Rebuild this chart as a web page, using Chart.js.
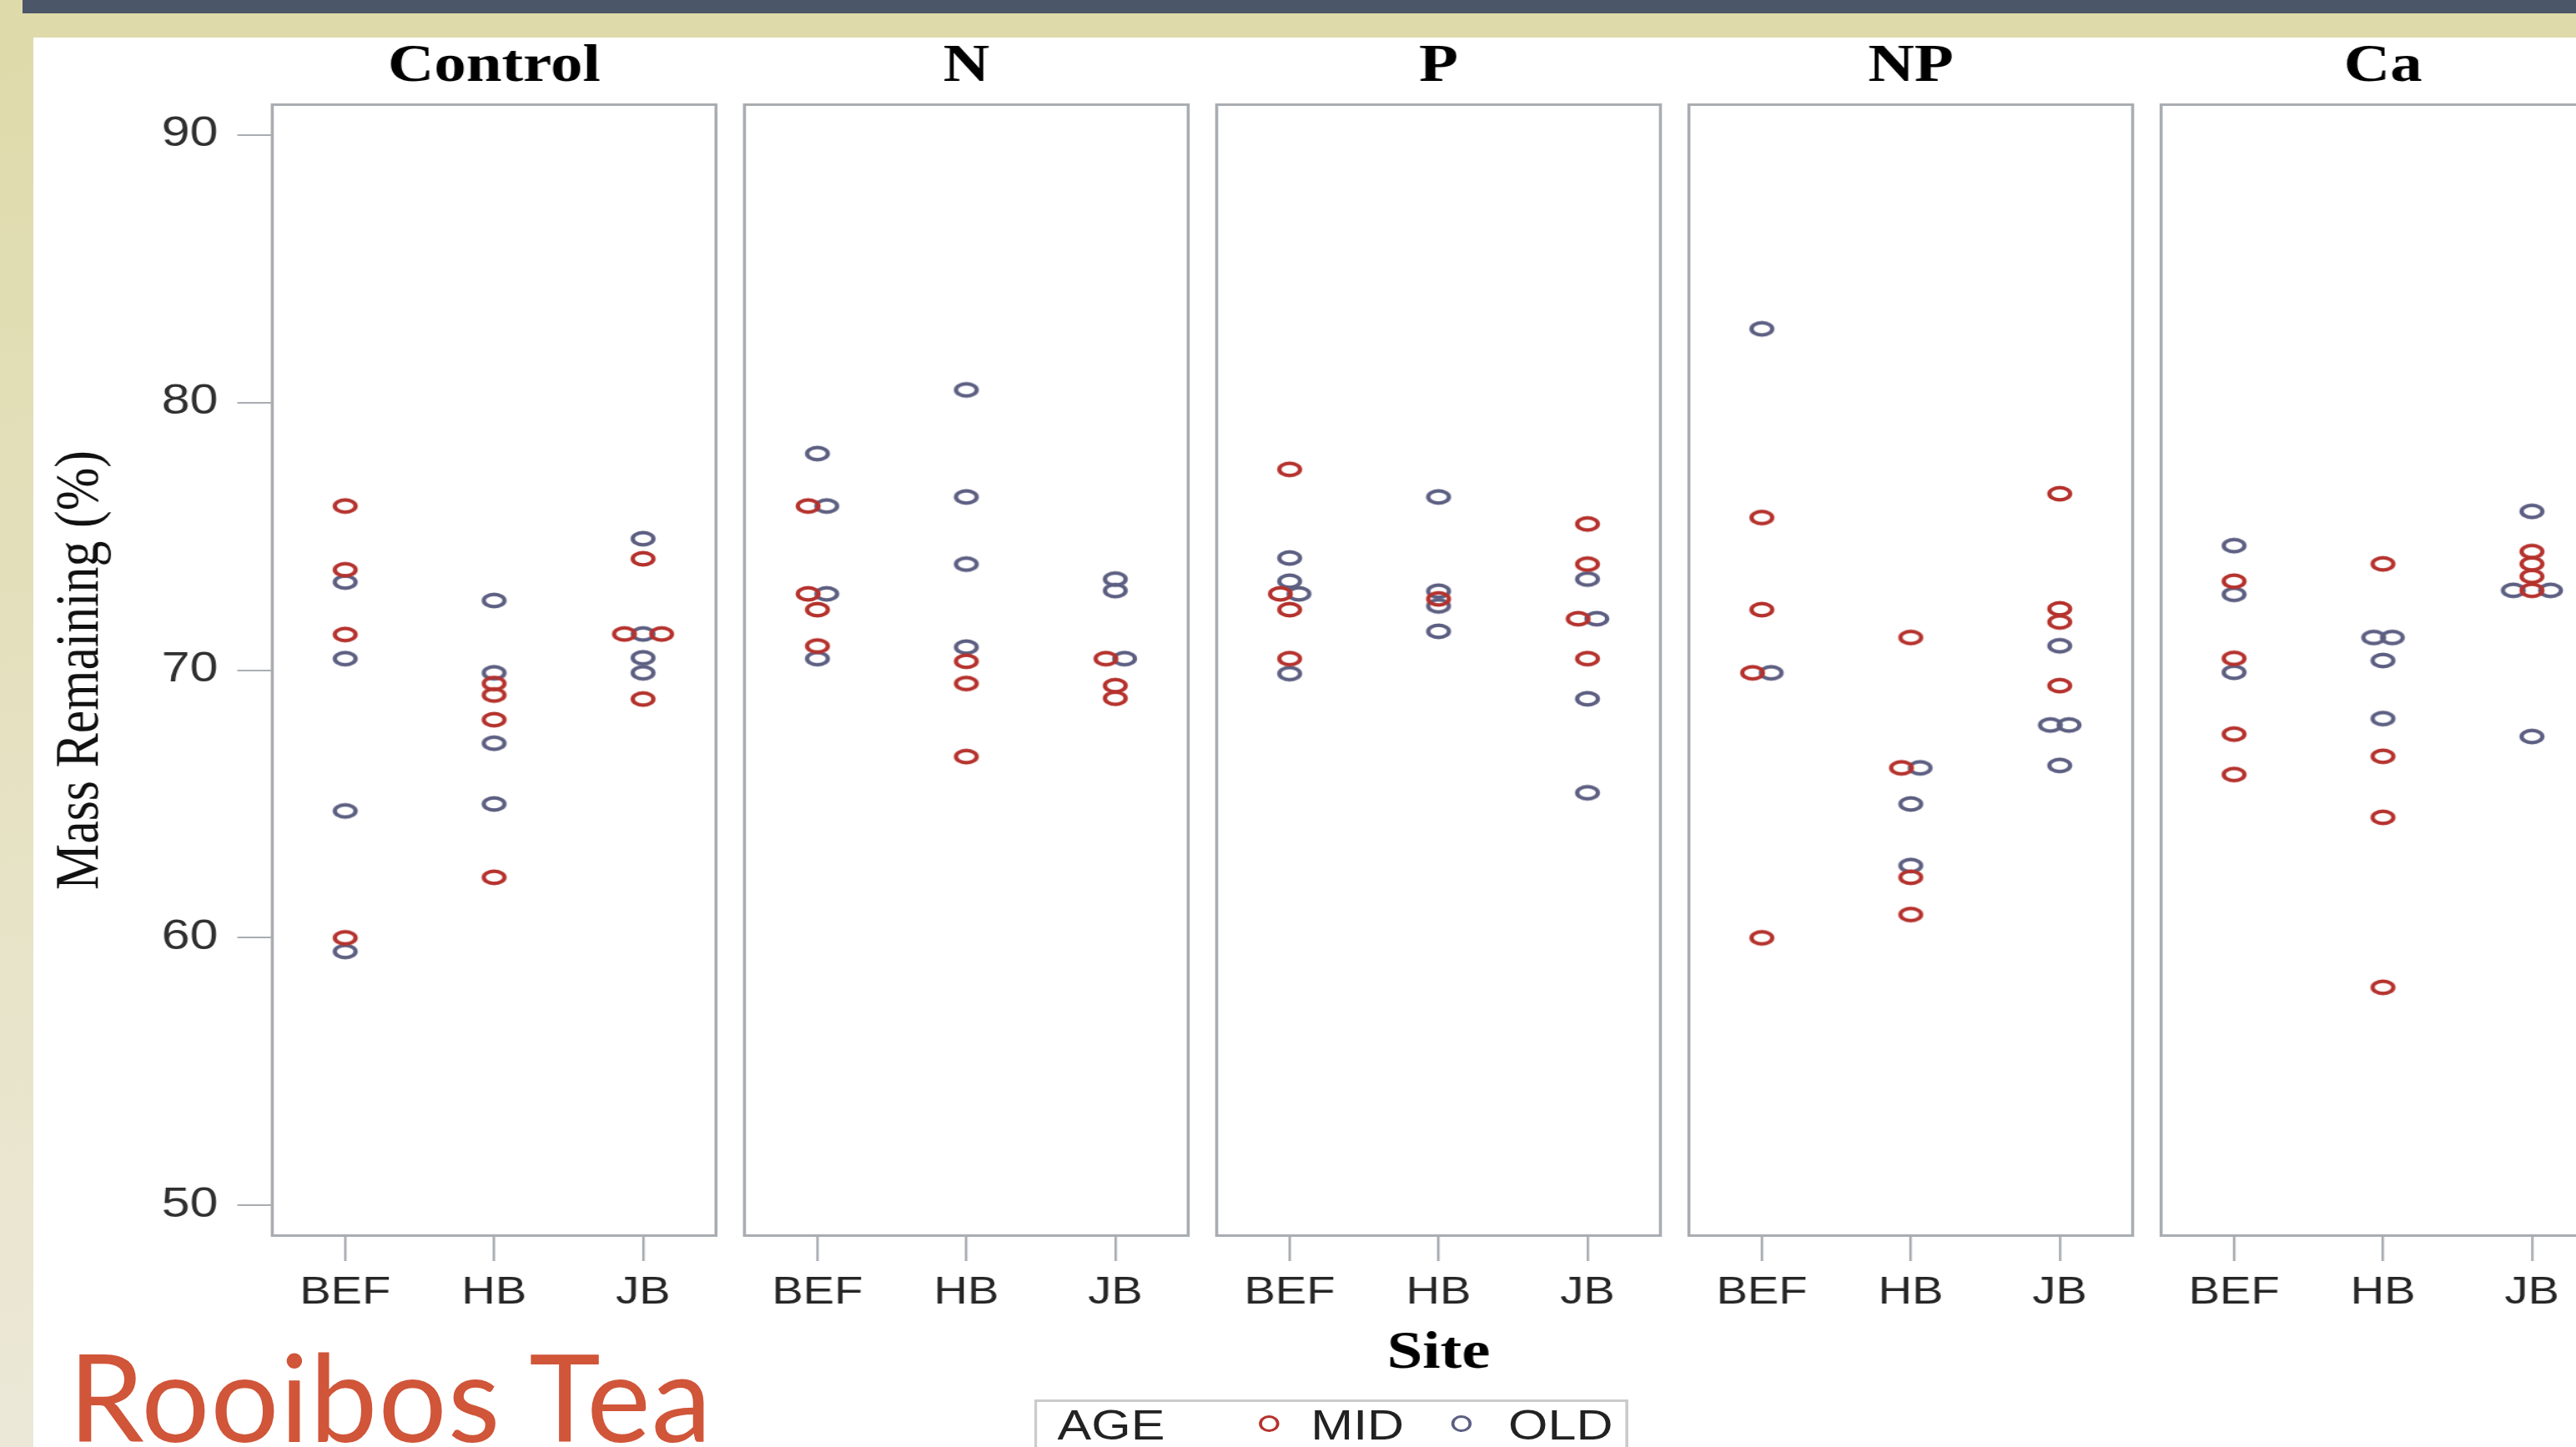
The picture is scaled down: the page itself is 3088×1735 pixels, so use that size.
<!DOCTYPE html>
<html>
<head>
<meta charset="utf-8">
<script src="https://cdn.jsdelivr.net/npm/chart.js@4.4.1/dist/chart.umd.min.js"></script>
<style>
  html, body { margin:0; padding:0; width:3088px; height:1735px; overflow:hidden; background:#ffffff; }
  #bgTop { position:absolute; left:0; top:0; width:3088px; height:45px; background:#dedaa9; }
  #bgLeft { position:absolute; left:0; top:0; width:40px; height:1735px; background:linear-gradient(#dedaa9, #ece8d8); }
  #bar { position:absolute; left:27px; top:0; width:3061px; height:16px; background:#4b5768; }
  #stage { position:absolute; left:0; top:0; width:2600px; height:1735px; transform:scaleX(1.22); transform-origin:0 0; }
  #stage canvas { position:absolute; top:0; }
  #legend { position:absolute; left:1016px; top:1678px; width:584px; height:80px; border:3px solid #cbcbcb; box-sizing:border-box; }
  .lg { position:absolute; font-family:"Liberation Sans", Arial, sans-serif; font-size:50px; line-height:60px; height:60px; color:#222; white-space:nowrap; }
  .lm { position:absolute; width:20px; height:20px; border-radius:50%; box-sizing:border-box; border:3px solid; }
  #slideTitle { position:absolute; left:82px; top:1586px; font-family:Lato, "Open Sans", sans-serif; font-size:145px; line-height:174px; letter-spacing:1px; color:#d05539; white-space:nowrap; }
</style>
</head>
<body>
<div id="bgTop"></div>
<div id="bgLeft"></div>
<div id="bar"></div>
<div id="stage"></div>
<div id="slideTitle"></div>
<script>
// ---------------- data ----------------
const panels = ['Control', 'N', 'P', 'NP', 'Ca'];
const sites = ['BEF', 'HB', 'JB'];
const ageGroups = ['MID', 'OLD'];
const yTicks = [50, 60, 70, 80, 90];
const yAxisTitle = 'Mass Remaining (%)';
const xAxisTitle = 'Site';
const legendTitle = 'AGE';
const slideTitleText = 'Rooibos Tea';

// values per site, in order [BEF, HB, JB]
const controlMID = [[76.13, 73.75, 71.33, 60.0], [69.5, 69.07, 68.15, 62.26], [74.16, 71.35, 71.35, 68.92]];
const controlOLD = [[73.29, 70.43, 64.74, 59.49], [72.6, 69.9, 67.27, 65.0], [74.91, 71.35, 70.46, 69.9]];
const nMID = [[76.13, 72.85, 72.26, 70.9], [70.33, 69.5, 66.77], [70.43, 69.42, 68.95]];
const nOLD = [[78.09, 76.13, 72.85, 70.43], [80.47, 76.47, 73.96, 70.86], [73.4, 72.97, 70.43]];
const pMID = [[77.5, 72.85, 72.26, 70.43], [72.66], [75.46, 73.96, 71.92, 70.43]];
const pOLD = [[74.19, 73.32, 72.85, 69.87], [76.47, 72.95, 72.4, 71.45], [73.4, 71.92, 68.93, 65.42]];
const npMID = [[75.7, 72.26, 69.9, 60.0], [71.22, 66.35, 62.26, 60.87], [76.59, 72.29, 71.8, 69.42]];
const npOLD = [[82.75, 69.9], [66.35, 65.0, 62.7], [70.91, 67.95, 67.95, 66.44]];
const caMID = [[73.32, 70.44, 67.61, 66.1], [73.97, 66.78, 64.5, 58.15], [74.43, 73.97, 73.5, 72.98]];
const caOLD = [[74.65, 72.83, 69.92], [71.22, 71.22, 70.36, 68.19], [75.93, 72.98, 72.98, 67.52]];

const midByPanel = [controlMID, nMID, pMID, npMID, caMID];
const oldByPanel = [controlOLD, nOLD, pOLD, npOLD, caOLD];

// ---------------- style / layout ----------------
const S = 1.22;                 // horizontal stretch of the original figure
const COLORS = { MID: '#b5322d', OLD: '#5d5f82' };
const Y_MIN = 48.83, Y_MAX = 91.17;
const JITTER_STEP = 0.125;      // spreads markers with identical values side by side
const GRID = '#a9adb2';

function ringImage(color) {
  const c = document.createElement('canvas');
  c.width = 30; c.height = 24;
  const g = c.getContext('2d');
  g.strokeStyle = color;
  g.lineWidth = 4.2;
  g.beginPath();
  g.ellipse(15, 12, 10.2, 7.3, 0, 0, Math.PI * 2);
  g.stroke();
  return c;
}
const rings = { MID: ringImage(COLORS.MID), OLD: ringImage(COLORS.OLD) };

function buildPoints(mid, old) {
  const out = { MID: [], OLD: [] };
  sites.forEach((s, si) => {
    const items = [];
    mid[si].forEach(v => items.push({ age: 'MID', v }));
    old[si].forEach(v => items.push({ age: 'OLD', v }));
    const groups = [];
    items.forEach(it => {
      const g = groups.find(gr => Math.abs(gr[0].v - it.v) < 0.01);
      if (g) g.push(it); else groups.push([it]);
    });
    groups.forEach(g => {
      let ordered;
      if (g.length === 3) {
        const cnt = { MID: 0, OLD: 0 };
        g.forEach(it => cnt[it.age]++);
        const minority = cnt.MID < cnt.OLD ? 'MID' : 'OLD';
        const mins = g.filter(it => it.age === minority);
        const majs = g.filter(it => it.age !== minority);
        ordered = majs.length ? [majs[0], ...mins, ...majs.slice(1)] : g;
      } else {
        ordered = g.slice().sort((a, b) => (a.age === b.age ? 0 : (a.age === 'MID' ? -1 : 1)));
      }
      const n = ordered.length;
      ordered.forEach((it, k) => out[it.age].push({ x: si + (k - (n - 1) / 2) * JITTER_STEP, y: it.v }));
    });
  });
  return out;
}

const framePlugin = {
  id: 'panelFrame',
  beforeDatasetsDraw(chart) {
    const { ctx, chartArea: a } = chart;
    ctx.save();
    ctx.strokeStyle = GRID;
    ctx.lineWidth = 3;
    ctx.strokeRect(a.left + 1.5, a.top + 1.5, a.right - a.left - 3, a.bottom - a.top - 3);
    ctx.restore();
  }
};

function makeChart(canvas, pi) {
  const pts = buildPoints(midByPanel[pi], oldByPanel[pi]);
  const isFirst = pi === 0;
  const isCenter = pi === 2;
  return new Chart(canvas, {
    type: 'scatter',
    data: {
      datasets: ageGroups.map(age => ({
        label: age,
        data: pts[age],
        pointStyle: rings[age],
        pointRadius: 9,
        hoverRadius: 9,
        borderColor: COLORS[age],
        backgroundColor: 'transparent',
        showLine: false,
        clip: false
      }))
    },
    options: {
      responsive: false,
      animation: false,
      events: [],
      layout: { padding: 0, autoPadding: false },
      plugins: {
        legend: { display: false },
        tooltip: { enabled: false },
        title: {
          display: true, text: panels[pi], fullSize: false, color: '#000',
          font: { family: 'Liberation Serif', weight: 'bold', size: 63 },
          padding: { top: 43.2, bottom: 5.2 }
        }
      },
      scales: {
        x: {
          type: 'linear', min: -0.5, max: 2.5,
          afterBuildTicks: s => { s.ticks = sites.map((_, i) => ({ value: i })); },
          afterFit: s => { s.height = 197; },
          ticks: {
            callback: v => sites[v], autoSkip: false, maxRotation: 0, minRotation: 0,
            font: { family: 'Liberation Sans', size: 46 }, color: '#262626', padding: 11
          },
          grid: { drawOnChartArea: false, drawTicks: true, tickLength: 29, color: GRID, lineWidth: 2.5 },
          border: { display: false },
          title: {
            display: isCenter, text: xAxisTitle, color: '#000',
            font: { family: 'Liberation Serif', weight: 'bold', size: 63 },
            padding: { top: 0, bottom: 18.2 }
          }
        },
        y: {
          type: 'linear', min: Y_MIN, max: Y_MAX, display: isFirst,
          afterBuildTicks: s => { s.ticks = yTicks.map(v => ({ value: v })); },
          afterFit: s => { if (isFirst) s.width = 233; },
          ticks: {
            callback: v => String(v),
            font: { family: 'Liberation Sans', size: 50 }, color: '#303030', padding: 18.8
          },
          grid: { drawOnChartArea: false, drawTicks: true, tickLength: 32.8, color: GRID, lineWidth: 2 },
          border: { display: false },
          title: {
            display: true, text: yAxisTitle, color: '#111',
            font: { family: 'Liberation Serif', size: 62 },
            padding: { top: 9.5, bottom: 0 }
          }
        }
      }
    },
    plugins: [framePlugin]
  });
}

// ---------------- build page ----------------
const stage = document.getElementById('stage');
panels.forEach((name, pi) => {
  const c = document.createElement('canvas');
  const left = pi === 0 ? 33 : (325 + pi * 566) / S;
  const width = pi === 0 ? 672 : 439;
  c.width = width; c.height = 1680;
  c.style.left = left + 'px';
  c.style.width = width + 'px';
  c.style.height = '1680px';
  stage.appendChild(c);
  makeChart(c, pi);
});

// legend
const legend = document.createElement('div');
legend.id = 'legend';
stage.appendChild(legend);
function addText(txt, x) {
  const d = document.createElement('div');
  d.className = 'lg'; d.textContent = txt;
  d.style.left = (x - 1016) + 'px';
  d.style.top = (1678.6 - 1678 - 3) + 'px';
  legend.appendChild(d);
}
function addMarker(age, cx) {
  const m = document.createElement('div');
  m.className = 'lm';
  m.style.borderColor = COLORS[age];
  m.style.left = (cx - 10 - 1016 - 3) + 'px';
  m.style.top = (1707 - 10 - 1678 - 3) + 'px';
  legend.appendChild(m);
}
addText(legendTitle, 1036);
addMarker(ageGroups[0], 1246.7);
addText(ageGroups[0], 1285);
addMarker(ageGroups[1], 1436);
addText(ageGroups[1], 1479);

document.getElementById('slideTitle').textContent = slideTitleText;
</script>
</body>
</html>
